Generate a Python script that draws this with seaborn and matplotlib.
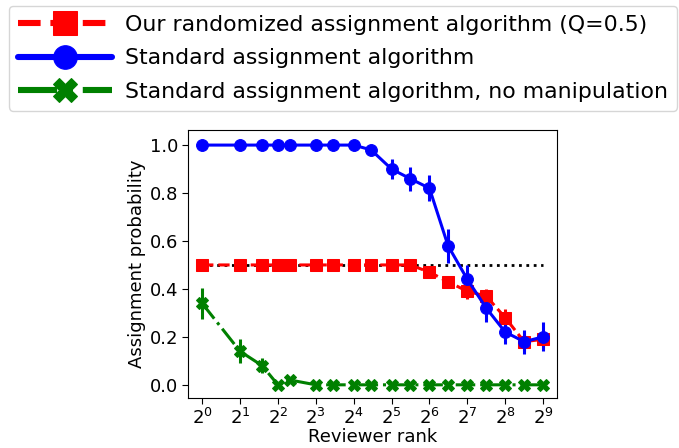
import numpy as np
import pandas as pd
import matplotlib
matplotlib.use("Agg")
import matplotlib.pyplot as plt
import seaborn as sns

# reviewer ranks (x positions, log2 scale)
ranks = [1, 2, 3, 4, 5, 8, 11, 16, 22, 32, 45, 64, 90, 128, 181, 256, 362, 512]

# assignment probabilities
randomized = [0.5, 0.5, 0.5, 0.5, 0.5, 0.5, 0.5, 0.5, 0.5, 0.5, 0.5,
              0.47, 0.43, 0.39, 0.37, 0.28, 0.18, 0.19]
randomized_err = [0, 0, 0, 0, 0, 0, 0, 0, 0, 0, 0,
                  0.01, 0.015, 0.03, 0.03, 0.035, 0.04, 0.035]
standard = [1.0, 1.0, 1.0, 1.0, 1.0, 1.0, 1.0, 1.0, 0.98, 0.90, 0.86,
            0.82, 0.58, 0.44, 0.32, 0.22, 0.18, 0.20]
standard_err = [0, 0, 0, 0, 0, 0, 0, 0, 0.01, 0.04, 0.05,
                0.055, 0.07, 0.06, 0.06, 0.05, 0.05, 0.06]
no_manip = [0.34, 0.14, 0.08, 0.0, 0.02, 0.0, 0.0, 0.0, 0.0, 0.0, 0.0,
            0.0, 0.0, 0.0, 0.0, 0.0, 0.0, 0.0]
no_manip_err = [0.065, 0.05, 0.03, 0, 0.01, 0, 0, 0, 0, 0, 0,
                0, 0, 0, 0, 0, 0, 0]

labels = ["Our randomized assignment algorithm (Q=0.5)",
          "Standard assignment algorithm",
          "Standard assignment algorithm, no manipulation"]

sns.set_style("ticks", rc={"text.color": "black", "axes.labelcolor": "black",
                           "xtick.color": "black", "ytick.color": "black",
                           "axes.edgecolor": "black"})
plt.rcParams['font.family'] = ['DejaVu Sans']

fig = plt.figure(figsize=(6.79, 4.48), dpi=100)
ax = fig.add_axes([0.277, 0.1116, 0.5435, 0.598])

series = [
    (randomized, randomized_err, "red", "--", "s", labels[0]),
    (standard, standard_err, "blue", "-", "o", labels[1]),
    (no_manip, no_manip_err, "green", "-.", "X", labels[2]),
]

# reference line at Q
ax.plot([ranks[0], ranks[-1]], [0.5, 0.5], ":", color="black", lw=2, zorder=1)

for vals, err, color, ls, marker, lab in series:
    df = pd.DataFrame({"rank": ranks, "prob": vals})
    sns.lineplot(data=df, x="rank", y="prob", ax=ax, color=color,
                 linestyle=ls, marker=marker, markersize=8.5, linewidth=2.2,
                 markeredgecolor=color, label=lab, zorder=3)
    ax.errorbar(ranks, vals, yerr=err, fmt="none", ecolor=color,
                elinewidth=2.2, zorder=2)

ax.set_xscale("log", base=2)
ax.set_xticks([2 ** k for k in range(10)])
ax.minorticks_off()
ax.set_xlim(2 ** -0.37, 2 ** 9.37)
ax.set_ylim(-0.055, 1.0625)
ax.set_yticks([0.0, 0.2, 0.4, 0.6, 0.8, 1.0])
ax.tick_params(labelsize=13, length=4, pad=3)
ax.set_xlabel("Reviewer rank", fontsize=13, labelpad=0)
ax.set_ylabel("Assignment probability", fontsize=13, labelpad=3)

h, l = ax.get_legend_handles_labels()
ax.get_legend().remove()
leg = fig.legend(h, l, loc="upper left", bbox_to_anchor=(9 / 679, 1 - 6 / 448),
                 fontsize=15.8, markerscale=2, handlelength=4.3,
                 handletextpad=0.6, borderaxespad=0, borderpad=0.4,
                 labelspacing=0.62, frameon=True)
for line in leg.get_lines():
    line.set_linewidth(4.4)

fig.savefig("out.png", dpi=100)
